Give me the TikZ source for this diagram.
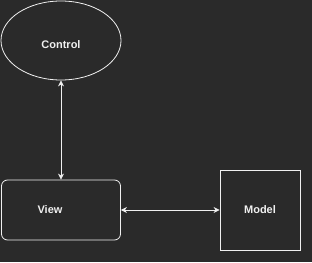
\documentclass[tikz,border=0pt]{standalone}
\usepackage{fontspec}
\setmainfont{Liberation Sans}
\usetikzlibrary{arrows.meta, shapes.geometric, positioning}
\definecolor{canvas}{HTML}{2A2A2A}
\definecolor{ink}{HTML}{F0F0F0}

\begin{document}
\begin{tikzpicture}[x=1pt, y=-1pt,
    part node/.style={draw=ink, line width=0.8pt, inner sep=0pt},
    part text/.style={text=ink, font=\bfseries\fontsize{11}{13}\selectfont, inner sep=0pt},
    link/.style={draw=ink, line width=0.8pt, {Stealth[length=6pt,width=6pt]}-{Stealth[length=6pt,width=6pt]}}]
    \fill[canvas] (0,0) rectangle (312,262);
    \useasboundingbox (0,0) rectangle (312,262);

    \node[part node, ellipse, minimum width=120pt, minimum height=79pt,
        label={[part text, yshift=-4pt]center:Control}] (control) at (61,40.5) {};
    \node[part node, rounded corners=6pt, minimum width=119pt, minimum height=60pt,
        label={[part text, xshift=-11pt]center:View}] (view) at (61,210) {};
    \node[part node, minimum width=80pt, minimum height=80pt,
        label={[part text]center:Model}] (model) at (260,210) {};

    \draw[link] (control) -- (view);
    \draw[link] (view) -- (model);
\end{tikzpicture}
\end{document}
